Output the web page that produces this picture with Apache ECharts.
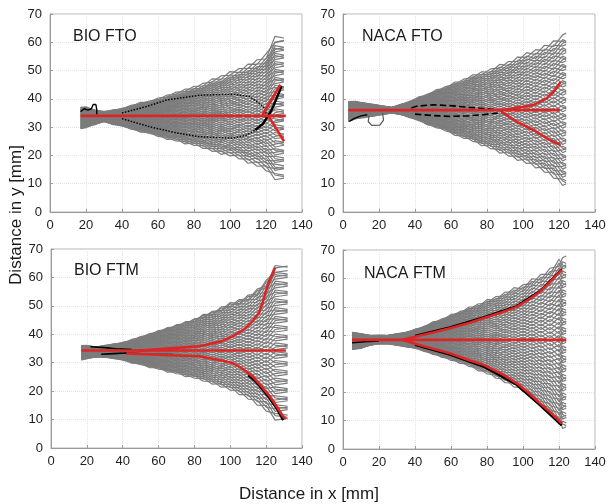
<!DOCTYPE html>
<html lang="en">
<head>
<meta charset="UTF-8">
<title>Fibre tracks</title>
<script src="https://cdn.jsdelivr.net/npm/echarts@6/dist/echarts.min.js"></script>
<style>
  html, body { margin: 0; padding: 0; background: #fff; }
  #charts { width: 611px; height: 504px; }
</style>
</head>
<body>
<div id="charts"></div>
<script>
// ---- x ticks / y ticks
var xTicks = [0, 20, 40, 60, 80, 100, 120, 140];
var yTicks = [0, 10, 20, 30, 40, 50, 60, 70];

// ---- BIO FTO : envelope of the gray track bundle + track end heights
var bioFtoEnvX   = [17, 20, 25, 30, 35, 40, 45, 50, 55, 60, 65, 70, 75, 80, 85, 90, 95, 100, 105, 110, 115, 120, 125];
var bioFtoEnvTop = [37, 37, 36, 35.5, 36, 36.5, 37.5, 38.5, 39, 40, 41, 42, 43, 44, 45, 46.5, 47.5, 49, 50, 51.5, 53, 55, 61];
var bioFtoEnvBot = [29.5, 30, 31, 32, 31, 30.5, 29.5, 28.5, 28, 27, 26, 25.5, 24.5, 24, 23, 22, 21, 20.5, 19.5, 18, 17, 15.5, 12.5];
var bioFtoEnds   = [12.5, 14.2, 15.8, 17, 18.6, 20, 21.3, 22.9, 24.1, 25.6, 27, 28.4, 29.8, 31.1, 32.7, 34, 35.4, 36.9, 38.2, 39.5, 41, 42.4, 43.7, 45.2, 46.5, 48, 49.3, 50.8, 52.1, 53.6, 55, 56.4, 57.7, 59, 61];
var bioFtoRedMid   = [[17, 34], [131, 34]];
var bioFtoRedUp    = [[118, 34.3], [128, 45]];
var bioFtoRedDown  = [[121.3, 34], [130, 25]];
var bioFtoBlackUp  = [[40, 35], [53.7, 37.3], [64.8, 39.6], [83.3, 41.3], [101.8, 41.6], [111, 40.8], [118.5, 37.3], [120.4, 34.3]];
var bioFtoBlackLow = [[40, 33], [55.6, 30.1], [70, 28], [83.3, 26.6], [101.8, 26.1], [109.3, 27.2], [114, 29]];
var bioFtoBlackEnd = [[114, 29], [118.5, 31.3], [123.1, 36], [127.8, 43.1], [128.5, 44.5]];
var bioFtoSquiggle = [[17, 35.5], [19, 36.5], [21, 36], [23, 36.5], [24, 38], [25.5, 38], [26, 36], [26, 34.5]];

// ---- NACA FTO
var nacaFtoEnvX   = [3, 7, 12, 17, 22, 27, 32, 37, 42, 47, 52, 57, 62, 67, 72, 77, 82, 87, 92, 97, 102, 107, 112, 117, 122];
var nacaFtoEnvTop = [39, 39, 38.5, 38, 37.5, 37, 38, 39, 40.5, 41.5, 43, 44, 45.5, 46.5, 48, 49, 50, 51.5, 52.5, 54, 55.5, 56.5, 58, 59.5, 61.5];
var nacaFtoEnvBot = [32, 33, 33.5, 34, 34.5, 35, 34.5, 33.5, 32.5, 31, 30, 29, 27.5, 26.5, 25.5, 24, 23, 21.5, 20.5, 19, 18, 16.5, 15, 13, 10.5];
var nacaFtoEnds   = [10.5, 12.1, 13.4, 15, 16.3, 17.9, 19.2, 20.8, 22.1, 23.7, 25, 26.6, 27.9, 29.5, 30.8, 32.4, 33.7, 35.3, 36.6, 38.2, 39.5, 41.1, 42.4, 44, 45.3, 46.9, 48.2, 49.8, 51.1, 52.7, 54, 55.6, 56.9, 58.5, 59.8, 61.5];
var nacaFtoRedMid   = [[3, 36], [120.5, 36]];
var nacaFtoRedUp    = [[88, 36], [96, 36.8], [105.7, 37.8], [113.2, 40.2], [117, 42.5], [120.9, 46]];
var nacaFtoRedDown  = [[88, 35.5], [96.5, 31.9], [105.7, 29], [115, 25.4], [120.9, 23.7]];
var nacaFtoBlackUp  = [[38, 36.8], [40.8, 37.4], [50, 37.9], [59.4, 37.6], [70, 37], [78, 36.6], [88, 36]];
var nacaFtoBlackLow = [[40, 34.6], [50, 34.1], [59.4, 33.8], [70, 34], [78, 34.4], [86, 35], [88, 35.5]];
var nacaFtoBlackStart = [[3.5, 32], [6, 33], [10, 34], [13.5, 34.4]];
var nacaFtoLoop = [[22, 35], [22.5, 32.5], [20.5, 30.7], [16, 30.6], [14, 32], [14.5, 34]];

// ---- BIO FTM
var bioFtmEnvX   = [17, 20, 25, 30, 35, 40, 45, 50, 55, 60, 65, 70, 75, 80, 85, 90, 95, 100, 105, 110, 115, 120, 125];
var bioFtmEnvTop = [36, 36, 35.5, 36, 36.5, 37, 38, 39, 40, 41, 42, 43, 44, 45, 46.5, 47.5, 49, 50.5, 51.5, 53, 55, 58, 63];
var bioFtmEnvBot = [31, 31.5, 32, 32, 31.5, 31, 30, 29.5, 28.5, 28, 27, 26.5, 25.5, 25, 24, 23, 22, 21, 19.5, 18, 16, 14, 11];
var bioFtmEnds   = [11, 12.6, 14.1, 15.7, 17.2, 18.8, 20.3, 21.9, 23.4, 25, 26.5, 28.1, 29.6, 31.2, 32.7, 34.3, 35.8, 37.4, 38.9, 40.5, 42, 43.6, 45.1, 46.7, 48.2, 49.8, 51.3, 52.9, 54.4, 56, 57.5, 59.1, 60.6, 62.2, 63];
var bioFtmRedMid  = [[17, 34.3], [131, 34.3]];
var bioFtmRedUp   = [[48, 34.2], [65, 35], [82.8, 35.8], [95, 37.5], [101.3, 39.3], [108, 41.8], [112.4, 44.6], [116, 47.5], [118, 51], [120.7, 56.9], [123, 60.5], [125, 63.4]];
var bioFtmRedDown = [[42, 33.3], [60, 32.8], [82.8, 32.3], [95, 30.8], [101.3, 29.9], [107, 27.8], [112.4, 25.2], [117, 22], [122, 18.2], [126, 14.5], [129, 11.5], [131, 10.2]];
var bioFtmBlackA  = [[22, 35.6], [30, 35.3], [36, 34.9], [45, 34.6]];
var bioFtmBlackB  = [[28, 33], [35, 33.2], [42, 33.4], [55, 33], [68, 32.9]];
var bioFtmBlackEnd = [[110, 25.6], [114, 23.5], [118, 20.6], [122, 17.4], [126, 13.8], [129.5, 9.8]];

// ---- NACA FTM
var nacaFtmEnvX   = [5, 10, 15, 20, 25, 30, 35, 40, 45, 50, 55, 60, 65, 70, 75, 80, 85, 90, 95, 100, 105, 110, 115, 120, 122];
var nacaFtmEnvTop = [41, 40.5, 40, 40, 40, 40.5, 41, 42, 43, 44.5, 45.5, 47, 48, 49.5, 50.5, 52, 53, 54.5, 56, 57, 59, 60.5, 62.5, 65.5, 66];
var nacaFtmEnvBot = [35, 35.5, 36.5, 37, 37, 36.5, 36, 35.5, 34.5, 33.5, 32.5, 31.5, 30.5, 29.5, 28, 27, 25.5, 24, 22.5, 21, 19, 16.5, 13.5, 10, 8.5];
var nacaFtmEnds   = [8.5, 10.1, 11.8, 13.4, 15.1, 16.7, 18.4, 20, 21.7, 23.3, 25, 26.6, 28.3, 29.9, 31.6, 33.2, 34.9, 36.5, 38.2, 39.8, 41.5, 43.1, 44.8, 46.4, 48.1, 49.7, 51.4, 53, 54.7, 56.3, 58, 59.6, 61.3, 62.9, 64.6, 66];
var nacaFtmRedMid  = [[5, 38.4], [124, 38.4]];
var nacaFtmRedUp   = [[33, 38.4], [40, 39.5], [50, 41], [59.4, 42.5], [70, 44.3], [78, 46], [88, 48], [96.5, 50], [103, 52.5], [109.4, 55.3], [115, 58.8], [121.5, 63]];
var nacaFtmRedDown = [[33, 38.4], [40, 37], [50, 35.3], [59.4, 33.7], [70, 31.2], [78, 29.6], [88, 26.5], [96.5, 23.2], [103, 19.8], [109.4, 16.1], [115, 13], [121.5, 9]];
var nacaFtmBlackUp   = [[40, 39.8], [59.4, 42.8], [78, 46.3], [96.5, 50.3], [109.4, 55.6], [121.5, 63.2]];
var nacaFtmBlackDown = [[40, 36.6], [59.4, 33.2], [78, 29], [96.5, 22.6], [109.4, 15.4], [121.5, 8.3]];
var nacaFtmBlackStart = [[5, 37.4], [12, 37.7], [20, 38]];

var ZIG = 0.8;       // zigzag amplitude of the gray tracks, in track spacings
var GRAY = '#7c7c7c';
var RED = '#dc2626';
var FONT = 'Liberation Sans, Arial, sans-serif';

var grids = [
    {left: 50, top: 14, width: 252, height: 198},
    {left: 343, top: 14, width: 252, height: 198},
    {left: 51, top: 249, width: 251, height: 199},
    {left: 343, top: 250, width: 252, height: 199}
];

var panels = [
    {title: 'BIO FTO', tx: 73, ty: 37, envX: bioFtoEnvX, top: bioFtoEnvTop, bot: bioFtoEnvBot, ends: bioFtoEnds, tail: 5,
        black: [[bioFtoBlackUp, 'dotted', 1.5], [bioFtoBlackLow, 'dotted', 1.5], [bioFtoBlackEnd, 'solid', 2.4], [bioFtoSquiggle, 'solid', 1.4]],
        red: [bioFtoRedMid, bioFtoRedUp, bioFtoRedDown]},
    {title: 'NACA FTO', tx: 362, ty: 37, envX: nacaFtoEnvX, top: nacaFtoEnvTop, bot: nacaFtoEnvBot, ends: nacaFtoEnds, tail: 2,
        black: [[nacaFtoBlackUp, 'dashed', 1.6], [nacaFtoBlackLow, 'dashed', 1.6], [nacaFtoBlackStart, 'solid', 1.4], [nacaFtoLoop, 'loop', 1.2]],
        red: [nacaFtoRedMid, nacaFtoRedUp, nacaFtoRedDown]},
    {title: 'BIO FTM', tx: 74, ty: 271, envX: bioFtmEnvX, top: bioFtmEnvTop, bot: bioFtmEnvBot, ends: bioFtmEnds, tail: 7,
        black: [[bioFtmBlackA, 'solid', 1.6], [bioFtmBlackB, 'solid', 1.6], [bioFtmBlackEnd, 'solid', 2.4]],
        red: [bioFtmRedMid, bioFtmRedUp, bioFtmRedDown]},
    {title: 'NACA FTM', tx: 364, ty: 274, envX: nacaFtmEnvX, top: nacaFtmEnvTop, bot: nacaFtmEnvBot, ends: nacaFtmEnds, tail: 2,
        black: [[nacaFtmBlackUp, 'solid', 2.2], [nacaFtmBlackDown, 'solid', 2.4], [nacaFtmBlackStart, 'solid', 1.6]],
        red: [nacaFtmRedMid, nacaFtmRedUp, nacaFtmRedDown]}
];

function lineSeries(idx, data, color, width, type, z) {
    return {
        type: 'line', xAxisIndex: idx, yAxisIndex: idx, data: data,
        showSymbol: false, silent: true, animation: false, z: z,
        lineStyle: {color: color, width: width, type: type || 'solid'}
    };
}

// gray tracks: each track keeps its place inside the bundle envelope and
// zigzags against its neighbours; drawn in both phases -> lozenge mesh
function trackSeries(idx, p) {
    var out = [];
    var last = p.envX.length - 1;
    var n = p.ends.length;
    p.ends.forEach(function (yEnd, i) {
        var s = (yEnd - p.bot[last]) / (p.top[last] - p.bot[last]);
        [1, -1].forEach(function (phase) {
            var pts = p.envX.map(function (x, k) {
                var w = p.top[k] - p.bot[k];
                var zig = (k === 0) ? 0 : phase * ((k + i) % 2 ? 1 : -1) * ZIG * w / n;
                return [x, p.bot[k] + s * w + zig];
            });
            if (p.tail) {
                pts.push([p.envX[last] + p.tail, pts[last][1] + phase * 0.6]);
            }
            out.push(lineSeries(idx, pts, GRAY, 1.2, 'solid', 1));
        });
    });
    return out;
}

var series = [];
var graphics = [];
var xAxes = [];
var yAxes = [];

panels.forEach(function (p, idx) {
    xAxes.push({
        type: 'value', gridIndex: idx, min: xTicks[0], max: xTicks[xTicks.length - 1], interval: 20,
        axisLine: {show: true, lineStyle: {color: '#9a9a9a'}},
        axisTick: {show: true, inside: true, length: 3, lineStyle: {color: '#9a9a9a'}},
        axisLabel: {color: '#1e1e1e', fontSize: 13, fontFamily: FONT, margin: 7},
        splitLine: {show: true, lineStyle: {color: '#e4e4e4', type: 'dotted'}}
    });
    yAxes.push({
        type: 'value', gridIndex: idx, min: yTicks[0], max: yTicks[yTicks.length - 1], interval: 10,
        axisLine: {show: true, lineStyle: {color: '#9a9a9a'}},
        axisTick: {show: true, inside: true, length: 3, lineStyle: {color: '#9a9a9a'}},
        axisLabel: {color: '#1e1e1e', fontSize: 13, fontFamily: FONT, margin: 8},
        splitLine: {show: true, lineStyle: {color: '#e4e4e4', type: 'dotted'}}
    });
    series = series.concat(trackSeries(idx, p));
    p.black.forEach(function (b) {
        if (b[1] === 'loop') {
            series.push(lineSeries(idx, b[0], '#555', b[2], 'solid', 2));
        } else {
            series.push(lineSeries(idx, b[0], '#000', b[2], b[1], 2));
        }
    });
    p.red.forEach(function (r) {
        series.push(lineSeries(idx, r, RED, 2.6, 'solid', 3));
    });
    graphics.push({
        type: 'text', x: p.tx, y: p.ty, z: 10,
        style: {text: p.title, font: '16px ' + FONT, fill: '#1a1a1a', textVerticalAlign: 'middle'}
    });
});

graphics.push({
    type: 'text', x: 309, y: 494, z: 10,
    style: {text: 'Distance in x [mm]', font: '17px ' + FONT, fill: '#1a1a1a', textAlign: 'center', textVerticalAlign: 'middle'}
});
graphics.push({
    type: 'text', x: 16, y: 215, z: 10, rotation: Math.PI / 2,
    style: {text: 'Distance in y [mm]', font: '17px ' + FONT, fill: '#1a1a1a', textAlign: 'center', textVerticalAlign: 'middle'}
});

var option = {
    backgroundColor: '#fff',
    animation: false,
    grid: grids.map(function (g) {
        return {left: g.left, top: g.top, width: g.width, height: g.height, show: true,
            borderColor: '#b4b4b4', borderWidth: 1, backgroundColor: 'transparent'};
    }),
    xAxis: xAxes,
    yAxis: yAxes,
    series: series,
    graphic: graphics
};

var myChart = echarts.init(document.getElementById('charts'), null, {renderer: 'canvas'});
myChart.setOption(option);
</script>
</body>
</html>
